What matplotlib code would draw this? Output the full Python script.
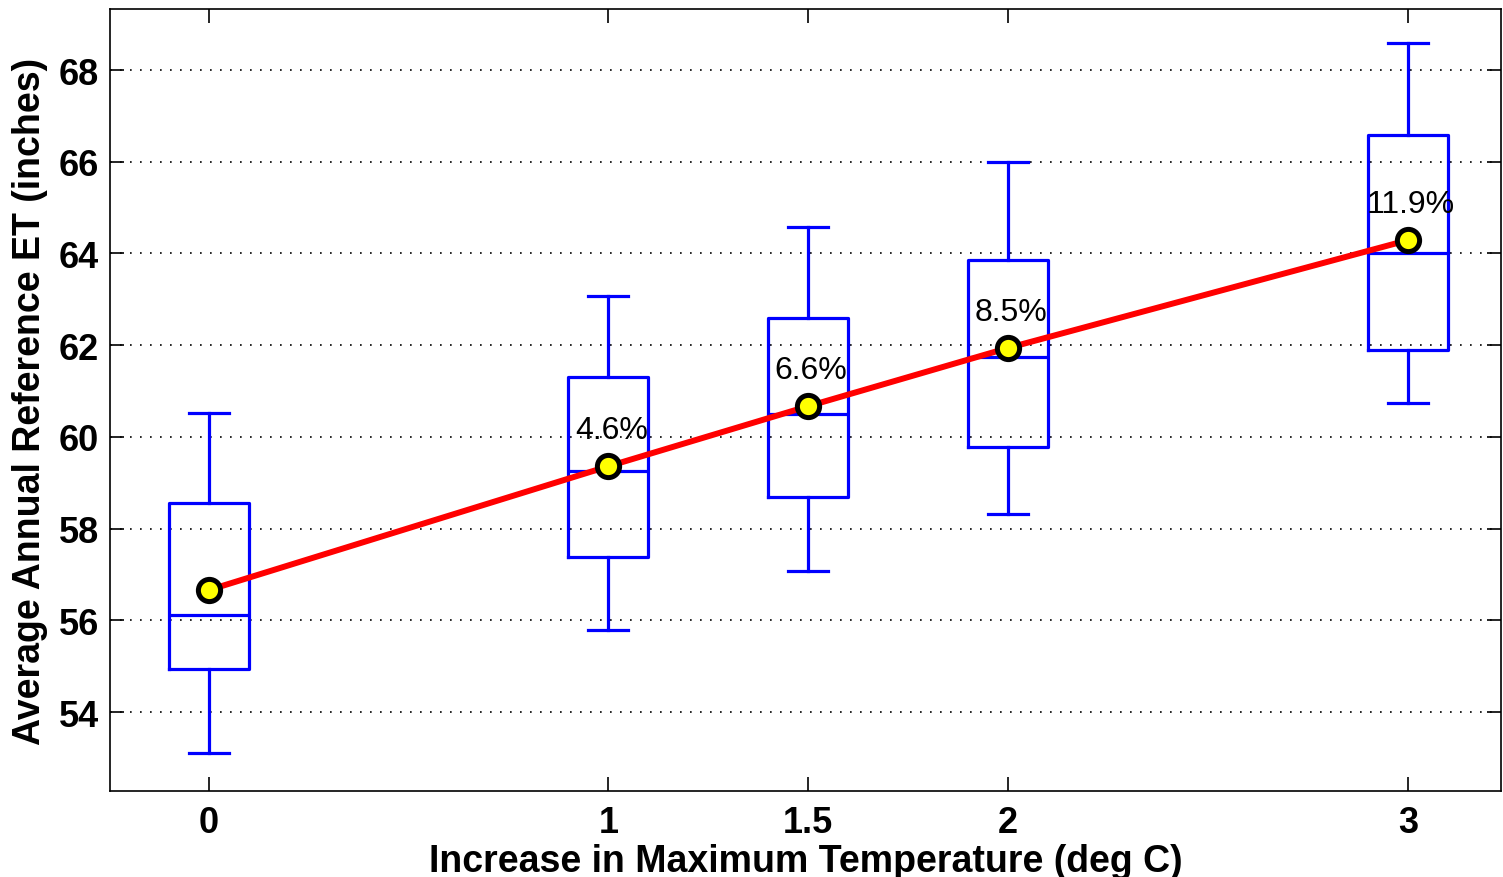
import matplotlib
matplotlib.use("Agg")
import matplotlib.pyplot as plt

# temperature increase scenarios (deg C)
temp_increase = [0, 1, 1.5, 2, 3]
tick_labels = ["0", "1", "1.5", "2", "3"]

# box statistics (inches)
whisker_low = [53.10, 55.79, 57.07, 58.32, 60.74]
q1 = [54.94, 57.38, 58.69, 59.78, 61.89]
median = [56.12, 59.26, 60.50, 61.74, 64.01]
q3 = [58.56, 61.30, 62.59, 63.86, 66.58]
whisker_high = [60.52, 63.07, 64.58, 66.00, 68.59]

# mean values and percent change labels
mean_et = [56.66, 59.36, 60.67, 61.94, 64.29]
pct_labels = [None, "4.6%", "6.6%", "8.5%", "11.9%"]

plt.rcParams["font.family"] = ["Liberation Sans", "DejaVu Sans"]

fig = plt.figure(figsize=(15.03, 8.78), dpi=100)
ax = fig.add_axes([0.0732, 0.098, 0.9255, 0.8906])

stats = []
for i in range(len(temp_increase)):
    stats.append({
        "whislo": whisker_low[i], "q1": q1[i], "med": median[i],
        "q3": q3[i], "whishi": whisker_high[i], "fliers": [],
    })

blue = "#0000ff"
ax.bxp(stats, positions=temp_increase, widths=0.2, showfliers=False,
       boxprops=dict(color=blue, linewidth=2.3),
       whiskerprops=dict(color=blue, linewidth=2.3),
       capprops=dict(color=blue, linewidth=2.3),
       medianprops=dict(color=blue, linewidth=2.3),
       capwidths=0.1, manage_ticks=False)

ax.plot(temp_increase, mean_et, color="#ff0000", linewidth=4.3, zorder=4,
        marker="o", markersize=16, markerfacecolor="#ffff00",
        markeredgecolor="black", markeredgewidth=3.6)

for x, y, lab in zip(temp_increase, mean_et, pct_labels):
    if lab is None:
        continue
    ax.annotate(lab, (x, y), xytext=(2, 15), textcoords="offset points",
                ha="center", va="bottom", fontsize=23, color="black", zorder=5)

ax.set_xlim(-0.247, 3.233)
ax.set_ylim(52.28, 69.33)
ax.set_xticks(temp_increase)
ax.set_xticklabels(tick_labels)
ax.set_yticks([54, 56, 58, 60, 62, 64, 66, 68])

ax.yaxis.grid(True, linestyle=(0, (1, 5)), color="black", linewidth=1.2)
ax.set_axisbelow(True)
ax.tick_params(direction="in", length=10, width=1.2, top=True, right=True,
               labelsize=26)
ax.tick_params(axis="y", pad=8)
ax.tick_params(axis="x", pad=10)
for lab in ax.get_xticklabels() + ax.get_yticklabels():
    lab.set_fontweight("bold")
for sp in ax.spines.values():
    sp.set_linewidth(1.2)

ax.set_xlabel("Increase in Maximum Temperature (deg C)", fontsize=27,
              fontweight="bold", labelpad=2)
ax.set_ylabel("Average Annual Reference ET (inches)", fontsize=27,
              fontweight="bold", labelpad=8)

fig.savefig("out.png", dpi=100)
